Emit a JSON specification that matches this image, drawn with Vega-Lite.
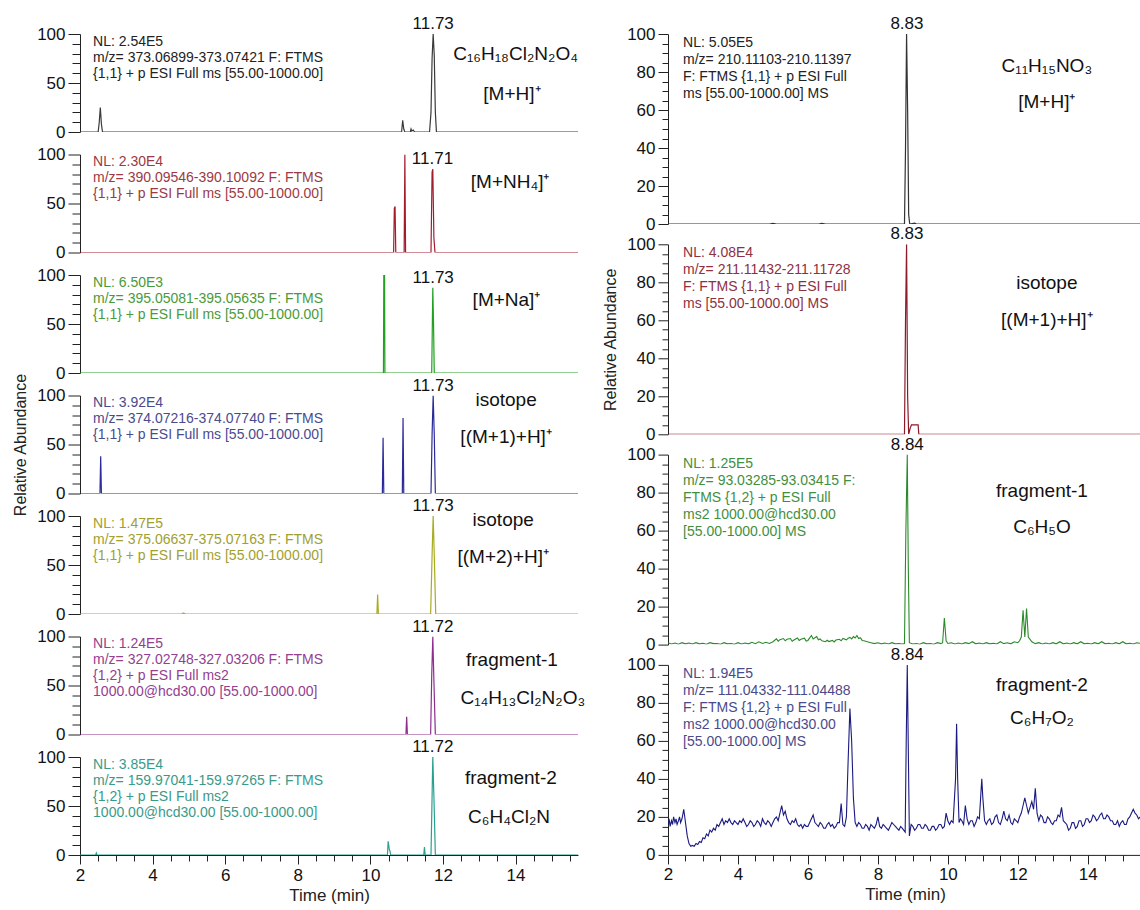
{
"$schema": "https://vega.github.io/schema/vega-lite/v6.json",
"padding": {"left": 12, "top": 15, "right": 0, "bottom": 4},
"background": "white",
"spacing": 16,
"datasets": {
"L1": [{"t":2,"y":0},{"t":2.5,"y":0},{"t":2.53,"y":10},{"t":2.56,"y":25},{"t":2.59,"y":8},{"t":2.62,"y":0},{"t":10.86,"y":0},{"t":10.89,"y":12},{"t":10.92,"y":3},{"t":10.95,"y":0},{"t":11.1,"y":0},{"t":11.12,"y":3},{"t":11.14,"y":1},{"t":11.18,"y":2},{"t":11.22,"y":0},{"t":11.63,"y":0},{"t":11.67,"y":20},{"t":11.7,"y":75},{"t":11.73,"y":100},{"t":11.76,"y":78},{"t":11.79,"y":20},{"t":11.82,"y":0},{"t":15.72,"y":0}],
"L2": [{"t":2,"y":0},{"t":10.64,"y":0},{"t":10.66,"y":45},{"t":10.68,"y":47},{"t":10.7,"y":0},{"t":10.93,"y":0},{"t":10.95,"y":100},{"t":10.97,"y":0},{"t":11.67,"y":0},{"t":11.7,"y":82},{"t":11.72,"y":85},{"t":11.75,"y":15},{"t":11.78,"y":0},{"t":15.72,"y":0}],
"L3": [{"t":2,"y":0},{"t":10.36,"y":0},{"t":10.37,"y":100},{"t":10.39,"y":100},{"t":10.4,"y":0},{"t":11.69,"y":0},{"t":11.72,"y":87},{"t":11.74,"y":50},{"t":11.76,"y":0},{"t":15.72,"y":0}],
"L4": [{"t":2,"y":0},{"t":2.55,"y":0},{"t":2.57,"y":38},{"t":2.59,"y":0},{"t":10.33,"y":0},{"t":10.35,"y":57},{"t":10.37,"y":0},{"t":10.88,"y":0},{"t":10.9,"y":77},{"t":10.92,"y":0},{"t":11.67,"y":0},{"t":11.7,"y":60},{"t":11.73,"y":100},{"t":11.76,"y":60},{"t":11.79,"y":0},{"t":15.72,"y":0}],
"L5": [{"t":2,"y":0},{"t":4.8,"y":0},{"t":4.85,"y":1},{"t":4.9,"y":0},{"t":10.18,"y":0},{"t":10.2,"y":20},{"t":10.22,"y":0},{"t":11.66,"y":0},{"t":11.7,"y":60},{"t":11.73,"y":100},{"t":11.76,"y":60},{"t":11.8,"y":0},{"t":15.72,"y":0}],
"L6": [{"t":2,"y":0},{"t":10.98,"y":0},{"t":11.0,"y":18},{"t":11.02,"y":0},{"t":11.66,"y":0},{"t":11.69,"y":60},{"t":11.72,"y":100},{"t":11.75,"y":55},{"t":11.79,"y":0},{"t":15.72,"y":0}],
"L7": [{"t":2,"y":0},{"t":2.43,"y":0},{"t":2.45,"y":2},{"t":2.47,"y":0},{"t":10.47,"y":0},{"t":10.49,"y":14},{"t":10.52,"y":6},{"t":10.54,"y":4},{"t":10.56,"y":0},{"t":11.47,"y":0},{"t":11.49,"y":8},{"t":11.51,"y":0},{"t":11.67,"y":0},{"t":11.7,"y":60},{"t":11.72,"y":100},{"t":11.75,"y":60},{"t":11.79,"y":0},{"t":15.72,"y":0}],
"R1": [{"t":2,"y":0},{"t":4.9,"y":0},{"t":5.0,"y":0.3},{"t":5.1,"y":0},{"t":6.3,"y":0},{"t":6.4,"y":0.3},{"t":6.5,"y":0},{"t":8.76,"y":0},{"t":8.79,"y":40},{"t":8.82,"y":100},{"t":8.85,"y":60},{"t":8.88,"y":5},{"t":8.91,"y":0},{"t":9.05,"y":0.4},{"t":9.1,"y":0},{"t":15.55,"y":0}],
"R2": [{"t":2,"y":0},{"t":8.76,"y":0},{"t":8.79,"y":60},{"t":8.82,"y":100},{"t":8.85,"y":20},{"t":8.88,"y":0},{"t":8.92,"y":3},{"t":8.96,"y":5},{"t":9.15,"y":5},{"t":9.17,"y":0},{"t":15.55,"y":0}],
"R3": [{"t":2.0,"y":1},{"t":2.1,"y":0.3},{"t":2.2,"y":0.8},{"t":2.3,"y":0.2},{"t":2.4,"y":1},{"t":2.5,"y":0.4},{"t":2.6,"y":0.8},{"t":2.7,"y":0.3},{"t":2.8,"y":1},{"t":2.9,"y":0.4},{"t":3.0,"y":0.7},{"t":3.1,"y":0.2},{"t":3.2,"y":1},{"t":3.3,"y":0.5},{"t":3.4,"y":0.6},{"t":3.5,"y":0.2},{"t":3.6,"y":1},{"t":3.7,"y":0.4},{"t":3.8,"y":0.6},{"t":3.9,"y":0.2},{"t":4.0,"y":1},{"t":4.1,"y":0.3},{"t":4.2,"y":0.8},{"t":4.3,"y":0.4},{"t":4.4,"y":1.2},{"t":4.5,"y":0.5},{"t":4.6,"y":1.5},{"t":4.7,"y":0.6},{"t":4.8,"y":1.2},{"t":4.9,"y":0.6},{"t":5.0,"y":1.5},{"t":5.1,"y":3},{"t":5.15,"y":1.8},{"t":5.2,"y":2.6},{"t":5.3,"y":3.2},{"t":5.35,"y":2},{"t":5.4,"y":2.8},{"t":5.5,"y":3.2},{"t":5.55,"y":1.8},{"t":5.6,"y":2.4},{"t":5.7,"y":3.5},{"t":5.75,"y":2.2},{"t":5.8,"y":2.8},{"t":5.9,"y":3.4},{"t":5.95,"y":1.9},{"t":6.0,"y":2.2},{"t":6.1,"y":4.8},{"t":6.15,"y":3},{"t":6.2,"y":3.6},{"t":6.25,"y":4.2},{"t":6.3,"y":2.5},{"t":6.35,"y":3},{"t":6.4,"y":2},{"t":6.5,"y":1.5},{"t":6.55,"y":2.3},{"t":6.6,"y":1.6},{"t":6.7,"y":2.2},{"t":6.75,"y":1.4},{"t":6.8,"y":2.4},{"t":6.9,"y":2.8},{"t":6.95,"y":2},{"t":7.0,"y":3.2},{"t":7.1,"y":2.5},{"t":7.15,"y":3.4},{"t":7.2,"y":3.8},{"t":7.25,"y":3},{"t":7.3,"y":4.2},{"t":7.35,"y":3.5},{"t":7.4,"y":4.8},{"t":7.45,"y":3.2},{"t":7.5,"y":3.6},{"t":7.55,"y":2.2},{"t":7.6,"y":2},{"t":7.7,"y":1.5},{"t":7.8,"y":1},{"t":7.9,"y":0.5},{"t":8.0,"y":1},{"t":8.1,"y":0.4},{"t":8.2,"y":0.8},{"t":8.3,"y":0.3},{"t":8.4,"y":1},{"t":8.5,"y":0.4},{"t":8.6,"y":0.6},{"t":8.7,"y":0.3},{"t":8.76,"y":0.5},{"t":8.8,"y":60},{"t":8.84,"y":100},{"t":8.87,"y":40},{"t":8.9,"y":1},{"t":9.0,"y":0.3},{"t":9.1,"y":0.6},{"t":9.2,"y":0.2},{"t":9.3,"y":1},{"t":9.4,"y":0.4},{"t":9.5,"y":0.6},{"t":9.6,"y":0.2},{"t":9.7,"y":1},{"t":9.8,"y":0.5},{"t":9.85,"y":1},{"t":9.9,"y":14},{"t":9.95,"y":2},{"t":10.0,"y":0.6},{"t":10.1,"y":1},{"t":10.2,"y":0.3},{"t":10.3,"y":0.8},{"t":10.4,"y":0.3},{"t":10.5,"y":1},{"t":10.6,"y":0.5},{"t":10.7,"y":1.5},{"t":10.8,"y":0.4},{"t":10.9,"y":0.8},{"t":11.0,"y":0.3},{"t":11.1,"y":1},{"t":11.2,"y":0.4},{"t":11.3,"y":0.7},{"t":11.4,"y":0.3},{"t":11.5,"y":1.5},{"t":11.6,"y":0.5},{"t":11.7,"y":1},{"t":11.8,"y":0.4},{"t":11.9,"y":1.5},{"t":12.0,"y":1},{"t":12.05,"y":2},{"t":12.1,"y":4},{"t":12.15,"y":18},{"t":12.2,"y":4},{"t":12.25,"y":19},{"t":12.3,"y":4},{"t":12.4,"y":1.5},{"t":12.5,"y":0.5},{"t":12.6,"y":1},{"t":12.7,"y":0.3},{"t":12.8,"y":0.8},{"t":12.9,"y":0.3},{"t":13.0,"y":1},{"t":13.1,"y":0.4},{"t":13.2,"y":1.5},{"t":13.3,"y":0.4},{"t":13.4,"y":0.8},{"t":13.5,"y":0.3},{"t":13.6,"y":1},{"t":13.7,"y":0.4},{"t":13.8,"y":1.5},{"t":13.9,"y":0.4},{"t":14.0,"y":0.7},{"t":14.1,"y":0.3},{"t":14.2,"y":1},{"t":14.3,"y":0.4},{"t":14.4,"y":1.5},{"t":14.5,"y":0.4},{"t":14.6,"y":0.7},{"t":14.7,"y":0.3},{"t":14.8,"y":1},{"t":14.9,"y":0.4},{"t":15.0,"y":1.5},{"t":15.1,"y":0.4},{"t":15.2,"y":0.7},{"t":15.3,"y":0.3},{"t":15.4,"y":1},{"t":15.55,"y":0.5}],
"R4": [{"t":2.0,"y":16},{"t":2.03,"y":19},{"t":2.06,"y":15},{"t":2.1,"y":18},{"t":2.13,"y":16},{"t":2.16,"y":20},{"t":2.2,"y":17},{"t":2.23,"y":19},{"t":2.26,"y":16},{"t":2.3,"y":18},{"t":2.33,"y":20},{"t":2.36,"y":17},{"t":2.4,"y":19},{"t":2.45,"y":24},{"t":2.5,"y":17},{"t":2.55,"y":10},{"t":2.6,"y":6},{"t":2.65,"y":4.5},{"t":2.7,"y":5},{"t":2.75,"y":4.5},{"t":2.8,"y":6},{"t":2.85,"y":5.5},{"t":2.9,"y":7},{"t":2.95,"y":6.5},{"t":3.0,"y":9},{"t":3.05,"y":8.5},{"t":3.1,"y":11},{"t":3.15,"y":10},{"t":3.2,"y":13},{"t":3.25,"y":12},{"t":3.3,"y":14},{"t":3.35,"y":13},{"t":3.4,"y":16},{"t":3.45,"y":15},{"t":3.5,"y":17},{"t":3.55,"y":19},{"t":3.6,"y":16},{"t":3.65,"y":18},{"t":3.7,"y":17},{"t":3.75,"y":19},{"t":3.8,"y":17},{"t":3.85,"y":16},{"t":3.9,"y":18},{"t":3.95,"y":17},{"t":4.0,"y":16},{"t":4.05,"y":18},{"t":4.1,"y":17},{"t":4.15,"y":19},{"t":4.2,"y":17},{"t":4.25,"y":15},{"t":4.3,"y":16},{"t":4.35,"y":18},{"t":4.4,"y":17},{"t":4.45,"y":15},{"t":4.5,"y":16},{"t":4.55,"y":18},{"t":4.6,"y":17},{"t":4.65,"y":15},{"t":4.7,"y":19},{"t":4.75,"y":17},{"t":4.8,"y":16},{"t":4.85,"y":18},{"t":4.9,"y":17},{"t":4.95,"y":15},{"t":5.0,"y":17},{"t":5.05,"y":19},{"t":5.1,"y":20},{"t":5.15,"y":18},{"t":5.2,"y":22},{"t":5.25,"y":26},{"t":5.3,"y":21},{"t":5.35,"y":23},{"t":5.4,"y":19},{"t":5.45,"y":17},{"t":5.5,"y":16},{"t":5.55,"y":18},{"t":5.6,"y":17},{"t":5.65,"y":19},{"t":5.7,"y":16},{"t":5.75,"y":15},{"t":5.8,"y":16},{"t":5.85,"y":14},{"t":5.9,"y":16},{"t":5.95,"y":15},{"t":6.0,"y":15},{"t":6.05,"y":17},{"t":6.1,"y":19},{"t":6.15,"y":21},{"t":6.2,"y":17},{"t":6.25,"y":16},{"t":6.3,"y":15},{"t":6.35,"y":17},{"t":6.4,"y":16},{"t":6.45,"y":14},{"t":6.5,"y":14},{"t":6.55,"y":16},{"t":6.6,"y":17},{"t":6.65,"y":15},{"t":6.7,"y":16},{"t":6.75,"y":14},{"t":6.8,"y":15},{"t":6.85,"y":17},{"t":6.9,"y":17},{"t":6.95,"y":27},{"t":7.0,"y":16},{"t":7.05,"y":15},{"t":7.1,"y":20},{"t":7.15,"y":50},{"t":7.2,"y":77},{"t":7.25,"y":60},{"t":7.3,"y":30},{"t":7.35,"y":17},{"t":7.4,"y":15},{"t":7.45,"y":17},{"t":7.5,"y":16},{"t":7.55,"y":14},{"t":7.6,"y":14},{"t":7.65,"y":16},{"t":7.7,"y":15},{"t":7.75,"y":13},{"t":7.8,"y":16},{"t":7.85,"y":15},{"t":7.9,"y":14},{"t":7.95,"y":16},{"t":8.0,"y":20},{"t":8.05,"y":15},{"t":8.1,"y":14},{"t":8.15,"y":16},{"t":8.2,"y":15},{"t":8.25,"y":14},{"t":8.3,"y":13},{"t":8.35,"y":15},{"t":8.4,"y":17},{"t":8.45,"y":16},{"t":8.5,"y":15},{"t":8.55,"y":14},{"t":8.6,"y":13},{"t":8.65,"y":15},{"t":8.7,"y":14},{"t":8.78,"y":12},{"t":8.81,"y":60},{"t":8.84,"y":100},{"t":8.87,"y":55},{"t":8.9,"y":10},{"t":8.95,"y":16},{"t":9.0,"y":15},{"t":9.05,"y":13},{"t":9.1,"y":14},{"t":9.15,"y":16},{"t":9.2,"y":16},{"t":9.25,"y":14},{"t":9.3,"y":14},{"t":9.35,"y":16},{"t":9.4,"y":15},{"t":9.45,"y":13},{"t":9.5,"y":13},{"t":9.55,"y":15},{"t":9.6,"y":15},{"t":9.65,"y":13},{"t":9.7,"y":14},{"t":9.75,"y":16},{"t":9.8,"y":16},{"t":9.85,"y":14},{"t":9.9,"y":15},{"t":9.95,"y":22},{"t":10.0,"y":18},{"t":10.05,"y":16},{"t":10.1,"y":18},{"t":10.15,"y":17},{"t":10.22,"y":40},{"t":10.25,"y":69},{"t":10.28,"y":40},{"t":10.32,"y":17},{"t":10.36,"y":19},{"t":10.4,"y":18},{"t":10.45,"y":16},{"t":10.5,"y":26},{"t":10.55,"y":19},{"t":10.6,"y":16},{"t":10.65,"y":18},{"t":10.7,"y":18},{"t":10.75,"y":15},{"t":10.8,"y":17},{"t":10.85,"y":20},{"t":10.9,"y":19},{"t":10.97,"y":40},{"t":11.0,"y":30},{"t":11.05,"y":18},{"t":11.1,"y":16},{"t":11.15,"y":18},{"t":11.2,"y":19},{"t":11.25,"y":16},{"t":11.3,"y":17},{"t":11.35,"y":20},{"t":11.4,"y":21},{"t":11.45,"y":17},{"t":11.5,"y":16},{"t":11.55,"y":19},{"t":11.6,"y":23},{"t":11.65,"y":19},{"t":11.7,"y":18},{"t":11.75,"y":21},{"t":11.8,"y":17},{"t":11.85,"y":16},{"t":11.9,"y":19},{"t":11.95,"y":18},{"t":12.0,"y":17},{"t":12.05,"y":20},{"t":12.1,"y":22},{"t":12.15,"y":26},{"t":12.2,"y":30},{"t":12.25,"y":26},{"t":12.3,"y":22},{"t":12.35,"y":25},{"t":12.4,"y":28},{"t":12.45,"y":24},{"t":12.5,"y":35},{"t":12.55,"y":22},{"t":12.6,"y":18},{"t":12.65,"y":21},{"t":12.7,"y":20},{"t":12.75,"y":17},{"t":12.8,"y":17},{"t":12.85,"y":20},{"t":12.9,"y":19},{"t":12.95,"y":17},{"t":13.0,"y":16},{"t":13.05,"y":18},{"t":13.1,"y":18},{"t":13.15,"y":21},{"t":13.2,"y":20},{"t":13.25,"y":25},{"t":13.3,"y":18},{"t":13.35,"y":17},{"t":13.4,"y":16},{"t":13.45,"y":13},{"t":13.5,"y":14},{"t":13.55,"y":17},{"t":13.6,"y":17},{"t":13.65,"y":14},{"t":13.7,"y":15},{"t":13.75,"y":18},{"t":13.8,"y":18},{"t":13.85,"y":15},{"t":13.9,"y":16},{"t":13.95,"y":19},{"t":14.0,"y":19},{"t":14.05,"y":17},{"t":14.1,"y":18},{"t":14.15,"y":21},{"t":14.2,"y":20},{"t":14.25,"y":18},{"t":14.3,"y":19},{"t":14.35,"y":21},{"t":14.4,"y":22},{"t":14.45,"y":19},{"t":14.5,"y":19},{"t":14.55,"y":21},{"t":14.6,"y":20},{"t":14.65,"y":18},{"t":14.7,"y":18},{"t":14.75,"y":16},{"t":14.8,"y":16},{"t":14.85,"y":18},{"t":14.9,"y":15},{"t":14.95,"y":17},{"t":15.0,"y":18},{"t":15.05,"y":16},{"t":15.1,"y":16},{"t":15.15,"y":19},{"t":15.2,"y":20},{"t":15.25,"y":22},{"t":15.3,"y":24},{"t":15.35,"y":22},{"t":15.4,"y":21},{"t":15.45,"y":19},{"t":15.5,"y":20},{"t":15.55,"y":21}],
"info": [
{"p":"L1","t":2.36,"y":99,"text":"NL: 2.54E5\nm/z= 373.06899-373.07421 F: FTMS\n{1,1}  + p ESI Full ms [55.00-1000.00]"},
{"p":"L2","t":2.36,"y":99,"text":"NL: 2.30E4\nm/z= 390.09546-390.10092 F: FTMS\n{1,1}  + p ESI Full ms [55.00-1000.00]"},
{"p":"L3","t":2.36,"y":99,"text":"NL: 6.50E3\nm/z= 395.05081-395.05635 F: FTMS\n{1,1}  + p ESI Full ms [55.00-1000.00]"},
{"p":"L4","t":2.36,"y":99,"text":"NL: 3.92E4\nm/z= 374.07216-374.07740 F: FTMS\n{1,1}  + p ESI Full ms [55.00-1000.00]"},
{"p":"L5","t":2.36,"y":99,"text":"NL: 1.47E5\nm/z= 375.06637-375.07163 F: FTMS\n{1,1}  + p ESI Full ms [55.00-1000.00]"},
{"p":"L6","t":2.36,"y":99,"text":"NL: 1.24E5\nm/z= 327.02748-327.03206 F: FTMS\n{1,2}  + p ESI Full ms2\n1000.00@hcd30.00 [55.00-1000.00]"},
{"p":"L7","t":2.36,"y":99,"text":"NL: 3.85E4\nm/z= 159.97041-159.97265 F: FTMS\n{1,2}  + p ESI Full ms2\n1000.00@hcd30.00 [55.00-1000.00]"},
{"p":"R1","t":2.43,"y":99,"text":"NL: 5.05E5\nm/z= 210.11103-210.11397\nF: FTMS {1,1}  + p ESI Full\nms [55.00-1000.00]  MS"},
{"p":"R2","t":2.43,"y":99,"text":"NL: 4.08E4\nm/z= 211.11432-211.11728\nF: FTMS {1,1}  + p ESI Full\nms [55.00-1000.00]  MS"},
{"p":"R3","t":2.43,"y":99,"text":"NL: 1.25E5\nm/z= 93.03285-93.03415 F:\nFTMS {1,2}  + p ESI Full\nms2 1000.00@hcd30.00\n[55.00-1000.00]  MS"},
{"p":"R4","t":2.43,"y":99,"text":"NL: 1.94E5\nm/z= 111.04332-111.04488\nF: FTMS {1,2}  + p ESI Full\nms2 1000.00@hcd30.00\n[55.00-1000.00]  MS"}
],
"peak": [
{"p":"L1","t":11.73,"y":100,"text":"11.73"},
{"p":"L2","t":11.71,"y":85,"text":"11.71"},
{"p":"L3","t":11.73,"y":87,"text":"11.73"},
{"p":"L4","t":11.73,"y":100,"text":"11.73"},
{"p":"L5","t":11.73,"y":100,"text":"11.73"},
{"p":"L6","t":11.72,"y":100,"text":"11.72"},
{"p":"L7","t":11.72,"y":100,"text":"11.72"},
{"p":"R1","t":8.83,"y":100,"text":"8.83"},
{"p":"R2","t":8.83,"y":100,"text":"8.83"},
{"p":"R3","t":8.84,"y":100,"text":"8.84"},
{"p":"R4","t":8.84,"y":100,"text":"8.84"}
],
"lab": [
{"p":"L1","t":14.0,"y":80,"text":"C₁₆H₁₈Cl₂N₂O₄"},
{"p":"L1","t":13.9,"y":39,"text":"[M+H]⁺"},
{"p":"L2","t":13.85,"y":72,"text":"[M+NH₄]⁺"},
{"p":"L3","t":13.75,"y":75,"text":"[M+Na]⁺"},
{"p":"L4","t":13.74,"y":95,"text":"isotope"},
{"p":"L4","t":13.74,"y":58,"text":"[(M+1)+H]⁺"},
{"p":"L5","t":13.66,"y":96,"text":"isotope"},
{"p":"L5","t":13.66,"y":58,"text":"[(M+2)+H]⁺"},
{"p":"L6","t":13.9,"y":76,"text":"fragment-1"},
{"p":"L6","t":14.2,"y":37,"text":"C₁₄H₁₃Cl₂N₂O₃"},
{"p":"L7","t":13.87,"y":79,"text":"fragment-2"},
{"p":"L7","t":13.82,"y":39,"text":"C₆H₄Cl₂N"},
{"p":"R1","t":12.83,"y":83,"text":"C₁₁H₁₅NO₃"},
{"p":"R1","t":12.83,"y":64,"text":"[M+H]⁺"},
{"p":"R2","t":12.83,"y":79.5,"text":"isotope"},
{"p":"R2","t":12.83,"y":60,"text":"[(M+1)+H]⁺"},
{"p":"R3","t":12.69,"y":81,"text":"fragment-1"},
{"p":"R3","t":12.69,"y":62,"text":"C₆H₅O"},
{"p":"R4","t":12.69,"y":89.5,"text":"fragment-2"},
{"p":"R4","t":12.69,"y":72,"text":"C₆H₇O₂"}
]
},
"hconcat": [
{"bounds": "flush", "spacing": 22.5, "vconcat": [
{"width": 498, "height": 98, "resolve": {"axis": {"y": "independent"}}, "layer": [
 {"data": {"name": "L1"}, "mark": {"type": "line", "color": "#3a3a3a", "strokeWidth": 1.2, "clip": true},
  "encoding": {"x": {"field": "t", "type": "quantitative", "scale": {"domain": [2, 15.72], "nice": false, "zero": false}, "axis": {"labels": false, "ticks": false, "title": null, "domainColor": "#8a8a8a"}},
   "y": {"field": "y", "type": "quantitative", "scale": {"domain": [0, 100], "nice": false}, "axis": {"values": [0,50,100], "tickSize": 12, "title": null}}}},
 {"data": {"name": "info"}, "transform": [{"filter": "datum.p === 'L1'"}], "mark": {"type": "text", "align": "left", "baseline": "top", "fontSize": 14, "lineHeight": 16, "lineBreak": "\n", "color": "#222222"},
  "encoding": {"x": {"field": "t", "type": "quantitative", "scale": {"domain": [2, 15.72], "nice": false, "zero": false}, "axis": null}, "y": {"field": "y", "type": "quantitative", "scale": {"domain": [0, 100], "nice": false}, "axis": {"orient": "left", "values": [10,20,30,40], "labels": false, "domain": false, "tickSize": 8, "title": null}}, "text": {"field": "text"}}},
 {"data": {"name": "peak"}, "transform": [{"filter": "datum.p === 'L1'"}], "mark": {"type": "text", "align": "center", "baseline": "bottom", "dy": -1, "fontSize": 17, "color": "#111111"},
  "encoding": {"x": {"field": "t", "type": "quantitative", "scale": {"domain": [2, 15.72], "nice": false, "zero": false}, "axis": null}, "y": {"field": "y", "type": "quantitative", "scale": {"domain": [0, 100], "nice": false}, "axis": {"orient": "left", "values": [60,70,80,90], "labels": false, "domain": false, "tickSize": 8, "title": null}}, "text": {"field": "text"}}},
 {"data": {"name": "lab"}, "transform": [{"filter": "datum.p === 'L1'"}], "mark": {"type": "text", "align": "center", "baseline": "middle", "fontSize": 19, "color": "#111111"},
  "encoding": {"x": {"field": "t", "type": "quantitative", "scale": {"domain": [2, 15.72], "nice": false, "zero": false}, "axis": null}, "y": {"field": "y", "type": "quantitative", "scale": {"domain": [0, 100], "nice": false}, "axis": null}, "text": {"field": "text"}}}
]},
{"width": 498, "height": 98, "resolve": {"axis": {"y": "independent"}}, "layer": [
 {"data": {"name": "L2"}, "mark": {"type": "line", "color": "#a31c2e", "strokeWidth": 1.2, "clip": true},
  "encoding": {"x": {"field": "t", "type": "quantitative", "scale": {"domain": [2, 15.72], "nice": false, "zero": false}, "axis": {"labels": false, "ticks": false, "title": null, "domainColor": "#8a8a8a"}},
   "y": {"field": "y", "type": "quantitative", "scale": {"domain": [0, 100], "nice": false}, "axis": {"values": [0,50,100], "tickSize": 12, "title": null}}}},
 {"data": {"name": "info"}, "transform": [{"filter": "datum.p === 'L2'"}], "mark": {"type": "text", "align": "left", "baseline": "top", "fontSize": 14, "lineHeight": 16, "lineBreak": "\n", "color": "#9b3a44"},
  "encoding": {"x": {"field": "t", "type": "quantitative", "scale": {"domain": [2, 15.72], "nice": false, "zero": false}, "axis": null}, "y": {"field": "y", "type": "quantitative", "scale": {"domain": [0, 100], "nice": false}, "axis": {"orient": "left", "values": [10,20,30,40], "labels": false, "domain": false, "tickSize": 8, "title": null}}, "text": {"field": "text"}}},
 {"data": {"name": "peak"}, "transform": [{"filter": "datum.p === 'L2'"}], "mark": {"type": "text", "align": "center", "baseline": "bottom", "dy": -1, "fontSize": 17, "color": "#111111"},
  "encoding": {"x": {"field": "t", "type": "quantitative", "scale": {"domain": [2, 15.72], "nice": false, "zero": false}, "axis": null}, "y": {"field": "y", "type": "quantitative", "scale": {"domain": [0, 100], "nice": false}, "axis": {"orient": "left", "values": [60,70,80,90], "labels": false, "domain": false, "tickSize": 8, "title": null}}, "text": {"field": "text"}}},
 {"data": {"name": "lab"}, "transform": [{"filter": "datum.p === 'L2'"}], "mark": {"type": "text", "align": "center", "baseline": "middle", "fontSize": 19, "color": "#111111"},
  "encoding": {"x": {"field": "t", "type": "quantitative", "scale": {"domain": [2, 15.72], "nice": false, "zero": false}, "axis": null}, "y": {"field": "y", "type": "quantitative", "scale": {"domain": [0, 100], "nice": false}, "axis": null}, "text": {"field": "text"}}}
]},
{"width": 498, "height": 98, "resolve": {"axis": {"y": "independent"}}, "layer": [
 {"data": {"name": "L3"}, "mark": {"type": "line", "color": "#22a022", "strokeWidth": 1.2, "clip": true},
  "encoding": {"x": {"field": "t", "type": "quantitative", "scale": {"domain": [2, 15.72], "nice": false, "zero": false}, "axis": {"labels": false, "ticks": false, "title": null, "domainColor": "#8a8a8a"}},
   "y": {"field": "y", "type": "quantitative", "scale": {"domain": [0, 100], "nice": false}, "axis": {"values": [0,50,100], "tickSize": 12, "title": null}}}},
 {"data": {"name": "info"}, "transform": [{"filter": "datum.p === 'L3'"}], "mark": {"type": "text", "align": "left", "baseline": "top", "fontSize": 14, "lineHeight": 16, "lineBreak": "\n", "color": "#4a9a3a"},
  "encoding": {"x": {"field": "t", "type": "quantitative", "scale": {"domain": [2, 15.72], "nice": false, "zero": false}, "axis": null}, "y": {"field": "y", "type": "quantitative", "scale": {"domain": [0, 100], "nice": false}, "axis": {"orient": "left", "values": [10,20,30,40], "labels": false, "domain": false, "tickSize": 8, "title": null}}, "text": {"field": "text"}}},
 {"data": {"name": "peak"}, "transform": [{"filter": "datum.p === 'L3'"}], "mark": {"type": "text", "align": "center", "baseline": "bottom", "dy": -1, "fontSize": 17, "color": "#111111"},
  "encoding": {"x": {"field": "t", "type": "quantitative", "scale": {"domain": [2, 15.72], "nice": false, "zero": false}, "axis": null}, "y": {"field": "y", "type": "quantitative", "scale": {"domain": [0, 100], "nice": false}, "axis": {"orient": "left", "values": [60,70,80,90], "labels": false, "domain": false, "tickSize": 8, "title": null}}, "text": {"field": "text"}}},
 {"data": {"name": "lab"}, "transform": [{"filter": "datum.p === 'L3'"}], "mark": {"type": "text", "align": "center", "baseline": "middle", "fontSize": 19, "color": "#111111"},
  "encoding": {"x": {"field": "t", "type": "quantitative", "scale": {"domain": [2, 15.72], "nice": false, "zero": false}, "axis": null}, "y": {"field": "y", "type": "quantitative", "scale": {"domain": [0, 100], "nice": false}, "axis": null}, "text": {"field": "text"}}}
]},
{"width": 498, "height": 98, "resolve": {"axis": {"y": "independent"}}, "layer": [
 {"data": {"name": "L4"}, "mark": {"type": "line", "color": "#2a2a9a", "strokeWidth": 1.2, "clip": true},
  "encoding": {"x": {"field": "t", "type": "quantitative", "scale": {"domain": [2, 15.72], "nice": false, "zero": false}, "axis": {"labels": false, "ticks": false, "title": null, "domainColor": "#8a8a8a"}},
   "y": {"field": "y", "type": "quantitative", "scale": {"domain": [0, 100], "nice": false}, "axis": {"values": [0,50,100], "tickSize": 12, "title": "Relative Abundance"}}}},
 {"data": {"name": "info"}, "transform": [{"filter": "datum.p === 'L4'"}], "mark": {"type": "text", "align": "left", "baseline": "top", "fontSize": 14, "lineHeight": 16, "lineBreak": "\n", "color": "#4a4a90"},
  "encoding": {"x": {"field": "t", "type": "quantitative", "scale": {"domain": [2, 15.72], "nice": false, "zero": false}, "axis": null}, "y": {"field": "y", "type": "quantitative", "scale": {"domain": [0, 100], "nice": false}, "axis": {"orient": "left", "values": [10,20,30,40], "labels": false, "domain": false, "tickSize": 8, "title": null}}, "text": {"field": "text"}}},
 {"data": {"name": "peak"}, "transform": [{"filter": "datum.p === 'L4'"}], "mark": {"type": "text", "align": "center", "baseline": "bottom", "dy": -1, "fontSize": 17, "color": "#111111"},
  "encoding": {"x": {"field": "t", "type": "quantitative", "scale": {"domain": [2, 15.72], "nice": false, "zero": false}, "axis": null}, "y": {"field": "y", "type": "quantitative", "scale": {"domain": [0, 100], "nice": false}, "axis": {"orient": "left", "values": [60,70,80,90], "labels": false, "domain": false, "tickSize": 8, "title": null}}, "text": {"field": "text"}}},
 {"data": {"name": "lab"}, "transform": [{"filter": "datum.p === 'L4'"}], "mark": {"type": "text", "align": "center", "baseline": "middle", "fontSize": 19, "color": "#111111"},
  "encoding": {"x": {"field": "t", "type": "quantitative", "scale": {"domain": [2, 15.72], "nice": false, "zero": false}, "axis": null}, "y": {"field": "y", "type": "quantitative", "scale": {"domain": [0, 100], "nice": false}, "axis": null}, "text": {"field": "text"}}}
]},
{"width": 498, "height": 98, "resolve": {"axis": {"y": "independent"}}, "layer": [
 {"data": {"name": "L5"}, "mark": {"type": "line", "color": "#a8ac22", "strokeWidth": 1.2, "clip": true},
  "encoding": {"x": {"field": "t", "type": "quantitative", "scale": {"domain": [2, 15.72], "nice": false, "zero": false}, "axis": {"labels": false, "ticks": false, "title": null, "domainColor": "#8a8a8a"}},
   "y": {"field": "y", "type": "quantitative", "scale": {"domain": [0, 100], "nice": false}, "axis": {"values": [0,50,100], "tickSize": 12, "title": null}}}},
 {"data": {"name": "info"}, "transform": [{"filter": "datum.p === 'L5'"}], "mark": {"type": "text", "align": "left", "baseline": "top", "fontSize": 14, "lineHeight": 16, "lineBreak": "\n", "color": "#9fa030"},
  "encoding": {"x": {"field": "t", "type": "quantitative", "scale": {"domain": [2, 15.72], "nice": false, "zero": false}, "axis": null}, "y": {"field": "y", "type": "quantitative", "scale": {"domain": [0, 100], "nice": false}, "axis": {"orient": "left", "values": [10,20,30,40], "labels": false, "domain": false, "tickSize": 8, "title": null}}, "text": {"field": "text"}}},
 {"data": {"name": "peak"}, "transform": [{"filter": "datum.p === 'L5'"}], "mark": {"type": "text", "align": "center", "baseline": "bottom", "dy": -1, "fontSize": 17, "color": "#111111"},
  "encoding": {"x": {"field": "t", "type": "quantitative", "scale": {"domain": [2, 15.72], "nice": false, "zero": false}, "axis": null}, "y": {"field": "y", "type": "quantitative", "scale": {"domain": [0, 100], "nice": false}, "axis": {"orient": "left", "values": [60,70,80,90], "labels": false, "domain": false, "tickSize": 8, "title": null}}, "text": {"field": "text"}}},
 {"data": {"name": "lab"}, "transform": [{"filter": "datum.p === 'L5'"}], "mark": {"type": "text", "align": "center", "baseline": "middle", "fontSize": 19, "color": "#111111"},
  "encoding": {"x": {"field": "t", "type": "quantitative", "scale": {"domain": [2, 15.72], "nice": false, "zero": false}, "axis": null}, "y": {"field": "y", "type": "quantitative", "scale": {"domain": [0, 100], "nice": false}, "axis": null}, "text": {"field": "text"}}}
]},
{"width": 498, "height": 98, "resolve": {"axis": {"y": "independent"}}, "layer": [
 {"data": {"name": "L6"}, "mark": {"type": "line", "color": "#8e2d8e", "strokeWidth": 1.2, "clip": true},
  "encoding": {"x": {"field": "t", "type": "quantitative", "scale": {"domain": [2, 15.72], "nice": false, "zero": false}, "axis": {"labels": false, "ticks": false, "title": null, "domainColor": "#8a8a8a"}},
   "y": {"field": "y", "type": "quantitative", "scale": {"domain": [0, 100], "nice": false}, "axis": {"values": [0,50,100], "tickSize": 12, "title": null}}}},
 {"data": {"name": "info"}, "transform": [{"filter": "datum.p === 'L6'"}], "mark": {"type": "text", "align": "left", "baseline": "top", "fontSize": 14, "lineHeight": 16, "lineBreak": "\n", "color": "#94408f"},
  "encoding": {"x": {"field": "t", "type": "quantitative", "scale": {"domain": [2, 15.72], "nice": false, "zero": false}, "axis": null}, "y": {"field": "y", "type": "quantitative", "scale": {"domain": [0, 100], "nice": false}, "axis": {"orient": "left", "values": [10,20,30,40], "labels": false, "domain": false, "tickSize": 8, "title": null}}, "text": {"field": "text"}}},
 {"data": {"name": "peak"}, "transform": [{"filter": "datum.p === 'L6'"}], "mark": {"type": "text", "align": "center", "baseline": "bottom", "dy": -1, "fontSize": 17, "color": "#111111"},
  "encoding": {"x": {"field": "t", "type": "quantitative", "scale": {"domain": [2, 15.72], "nice": false, "zero": false}, "axis": null}, "y": {"field": "y", "type": "quantitative", "scale": {"domain": [0, 100], "nice": false}, "axis": {"orient": "left", "values": [60,70,80,90], "labels": false, "domain": false, "tickSize": 8, "title": null}}, "text": {"field": "text"}}},
 {"data": {"name": "lab"}, "transform": [{"filter": "datum.p === 'L6'"}], "mark": {"type": "text", "align": "center", "baseline": "middle", "fontSize": 19, "color": "#111111"},
  "encoding": {"x": {"field": "t", "type": "quantitative", "scale": {"domain": [2, 15.72], "nice": false, "zero": false}, "axis": null}, "y": {"field": "y", "type": "quantitative", "scale": {"domain": [0, 100], "nice": false}, "axis": null}, "text": {"field": "text"}}}
]},
{"width": 498, "height": 98, "resolve": {"axis": {"x": "independent", "y": "independent"}}, "layer": [
 {"data": {"name": "L7"}, "mark": {"type": "line", "color": "#2aa090", "strokeWidth": 1.2, "clip": true},
  "encoding": {"x": {"field": "t", "type": "quantitative", "scale": {"domain": [2, 15.72], "nice": false, "zero": false}, "axis": {"values": [2,4,6,8,10,12,14], "tickSize": 9, "title": "Time (min)"}},
   "y": {"field": "y", "type": "quantitative", "scale": {"domain": [0, 100], "nice": false}, "axis": {"values": [0,50,100], "tickSize": 12, "title": null}}}},
 {"data": {"name": "info"}, "transform": [{"filter": "datum.p === 'L7'"}], "mark": {"type": "text", "align": "left", "baseline": "top", "fontSize": 14, "lineHeight": 16, "lineBreak": "\n", "color": "#3a9a8a"},
  "encoding": {"x": {"field": "t", "type": "quantitative", "scale": {"domain": [2, 15.72], "nice": false, "zero": false}, "axis": {"orient": "bottom", "values": [2.5,3,3.5,4.5,5,5.5,6.5], "labels": false, "domain": false, "tickSize": 6, "title": null}}, "y": {"field": "y", "type": "quantitative", "scale": {"domain": [0, 100], "nice": false}, "axis": {"orient": "left", "values": [10,20,30,40], "labels": false, "domain": false, "tickSize": 8, "title": null}}, "text": {"field": "text"}}},
 {"data": {"name": "peak"}, "transform": [{"filter": "datum.p === 'L7'"}], "mark": {"type": "text", "align": "center", "baseline": "bottom", "dy": -1, "fontSize": 17, "color": "#111111"},
  "encoding": {"x": {"field": "t", "type": "quantitative", "scale": {"domain": [2, 15.72], "nice": false, "zero": false}, "axis": {"orient": "bottom", "values": [7,7.5,8.5,9,9.5,10.5,11], "labels": false, "domain": false, "tickSize": 6, "title": null}}, "y": {"field": "y", "type": "quantitative", "scale": {"domain": [0, 100], "nice": false}, "axis": {"orient": "left", "values": [60,70,80,90], "labels": false, "domain": false, "tickSize": 8, "title": null}}, "text": {"field": "text"}}},
 {"data": {"name": "lab"}, "transform": [{"filter": "datum.p === 'L7'"}], "mark": {"type": "text", "align": "center", "baseline": "middle", "fontSize": 19, "color": "#111111"},
  "encoding": {"x": {"field": "t", "type": "quantitative", "scale": {"domain": [2, 15.72], "nice": false, "zero": false}, "axis": {"orient": "bottom", "values": [11.5,12.5,13,13.5,14.5,15,15.5], "labels": false, "domain": false, "tickSize": 6, "title": null}}, "y": {"field": "y", "type": "quantitative", "scale": {"domain": [0, 100], "nice": false}, "axis": null}, "text": {"field": "text"}}}
]}
]},
{"bounds": "flush", "spacing": 20.3, "vconcat": [
{"width": 474, "height": 190, "resolve": {"axis": {"y": "independent"}}, "layer": [
 {"data": {"name": "R1"}, "mark": {"type": "line", "color": "#333333", "strokeWidth": 1.2, "clip": true},
  "encoding": {"x": {"field": "t", "type": "quantitative", "scale": {"domain": [2, 15.55], "nice": false, "zero": false}, "axis": {"labels": false, "ticks": false, "title": null, "domainColor": "#8a8a8a"}},
   "y": {"field": "y", "type": "quantitative", "scale": {"domain": [0, 100], "nice": false}, "axis": {"values": [0,20,40,60,80,100], "tickSize": 10, "title": null}}}},
 {"data": {"name": "info"}, "transform": [{"filter": "datum.p === 'R1'"}], "mark": {"type": "text", "align": "left", "baseline": "top", "fontSize": 14, "lineHeight": 17, "lineBreak": "\n", "color": "#222222"},
  "encoding": {"x": {"field": "t", "type": "quantitative", "scale": {"domain": [2, 15.55], "nice": false, "zero": false}, "axis": null}, "y": {"field": "y", "type": "quantitative", "scale": {"domain": [0, 100], "nice": false}, "axis": {"orient": "left", "values": [5,10,15,25,30], "labels": false, "domain": false, "tickSize": 6, "title": null}}, "text": {"field": "text"}}},
 {"data": {"name": "peak"}, "transform": [{"filter": "datum.p === 'R1'"}], "mark": {"type": "text", "align": "center", "baseline": "bottom", "dy": -1, "fontSize": 17, "color": "#111111"},
  "encoding": {"x": {"field": "t", "type": "quantitative", "scale": {"domain": [2, 15.55], "nice": false, "zero": false}, "axis": null}, "y": {"field": "y", "type": "quantitative", "scale": {"domain": [0, 100], "nice": false}, "axis": {"orient": "left", "values": [35,45,50,55,65], "labels": false, "domain": false, "tickSize": 6, "title": null}}, "text": {"field": "text"}}},
 {"data": {"name": "lab"}, "transform": [{"filter": "datum.p === 'R1'"}], "mark": {"type": "text", "align": "center", "baseline": "middle", "fontSize": 19, "color": "#111111"},
  "encoding": {"x": {"field": "t", "type": "quantitative", "scale": {"domain": [2, 15.55], "nice": false, "zero": false}, "axis": null}, "y": {"field": "y", "type": "quantitative", "scale": {"domain": [0, 100], "nice": false}, "axis": {"orient": "left", "values": [70,75,85,90,95], "labels": false, "domain": false, "tickSize": 6, "title": null}}, "text": {"field": "text"}}}
]},
{"width": 474, "height": 190, "resolve": {"axis": {"y": "independent"}}, "layer": [
 {"data": {"name": "R2"}, "mark": {"type": "line", "color": "#8b1a2a", "strokeWidth": 1.2, "clip": true},
  "encoding": {"x": {"field": "t", "type": "quantitative", "scale": {"domain": [2, 15.55], "nice": false, "zero": false}, "axis": {"labels": false, "ticks": false, "title": null, "domainColor": "#8a8a8a"}},
   "y": {"field": "y", "type": "quantitative", "scale": {"domain": [0, 100], "nice": false}, "axis": {"values": [0,20,40,60,80,100], "tickSize": 10, "title": "Relative Abundance"}}}},
 {"data": {"name": "info"}, "transform": [{"filter": "datum.p === 'R2'"}], "mark": {"type": "text", "align": "left", "baseline": "top", "fontSize": 14, "lineHeight": 17, "lineBreak": "\n", "color": "#8e3040"},
  "encoding": {"x": {"field": "t", "type": "quantitative", "scale": {"domain": [2, 15.55], "nice": false, "zero": false}, "axis": null}, "y": {"field": "y", "type": "quantitative", "scale": {"domain": [0, 100], "nice": false}, "axis": {"orient": "left", "values": [5,10,15,25,30], "labels": false, "domain": false, "tickSize": 6, "title": null}}, "text": {"field": "text"}}},
 {"data": {"name": "peak"}, "transform": [{"filter": "datum.p === 'R2'"}], "mark": {"type": "text", "align": "center", "baseline": "bottom", "dy": -1, "fontSize": 17, "color": "#111111"},
  "encoding": {"x": {"field": "t", "type": "quantitative", "scale": {"domain": [2, 15.55], "nice": false, "zero": false}, "axis": null}, "y": {"field": "y", "type": "quantitative", "scale": {"domain": [0, 100], "nice": false}, "axis": {"orient": "left", "values": [35,45,50,55,65], "labels": false, "domain": false, "tickSize": 6, "title": null}}, "text": {"field": "text"}}},
 {"data": {"name": "lab"}, "transform": [{"filter": "datum.p === 'R2'"}], "mark": {"type": "text", "align": "center", "baseline": "middle", "fontSize": 19, "color": "#111111"},
  "encoding": {"x": {"field": "t", "type": "quantitative", "scale": {"domain": [2, 15.55], "nice": false, "zero": false}, "axis": null}, "y": {"field": "y", "type": "quantitative", "scale": {"domain": [0, 100], "nice": false}, "axis": {"orient": "left", "values": [70,75,85,90,95], "labels": false, "domain": false, "tickSize": 6, "title": null}}, "text": {"field": "text"}}}
]},
{"width": 474, "height": 190, "resolve": {"axis": {"y": "independent"}}, "layer": [
 {"data": {"name": "R3"}, "mark": {"type": "line", "color": "#2a8a2a", "strokeWidth": 1.1, "clip": true},
  "encoding": {"x": {"field": "t", "type": "quantitative", "scale": {"domain": [2, 15.55], "nice": false, "zero": false}, "axis": {"labels": false, "ticks": false, "title": null, "domainColor": "#8a8a8a"}},
   "y": {"field": "y", "type": "quantitative", "scale": {"domain": [0, 100], "nice": false}, "axis": {"values": [0,20,40,60,80,100], "tickSize": 10, "title": null}}}},
 {"data": {"name": "info"}, "transform": [{"filter": "datum.p === 'R3'"}], "mark": {"type": "text", "align": "left", "baseline": "top", "fontSize": 14, "lineHeight": 17, "lineBreak": "\n", "color": "#3f8f3f"},
  "encoding": {"x": {"field": "t", "type": "quantitative", "scale": {"domain": [2, 15.55], "nice": false, "zero": false}, "axis": null}, "y": {"field": "y", "type": "quantitative", "scale": {"domain": [0, 100], "nice": false}, "axis": {"orient": "left", "values": [5,10,15,25,30], "labels": false, "domain": false, "tickSize": 6, "title": null}}, "text": {"field": "text"}}},
 {"data": {"name": "peak"}, "transform": [{"filter": "datum.p === 'R3'"}], "mark": {"type": "text", "align": "center", "baseline": "bottom", "dy": -1, "fontSize": 17, "color": "#111111"},
  "encoding": {"x": {"field": "t", "type": "quantitative", "scale": {"domain": [2, 15.55], "nice": false, "zero": false}, "axis": null}, "y": {"field": "y", "type": "quantitative", "scale": {"domain": [0, 100], "nice": false}, "axis": {"orient": "left", "values": [35,45,50,55,65], "labels": false, "domain": false, "tickSize": 6, "title": null}}, "text": {"field": "text"}}},
 {"data": {"name": "lab"}, "transform": [{"filter": "datum.p === 'R3'"}], "mark": {"type": "text", "align": "center", "baseline": "middle", "fontSize": 19, "color": "#111111"},
  "encoding": {"x": {"field": "t", "type": "quantitative", "scale": {"domain": [2, 15.55], "nice": false, "zero": false}, "axis": null}, "y": {"field": "y", "type": "quantitative", "scale": {"domain": [0, 100], "nice": false}, "axis": {"orient": "left", "values": [70,75,85,90,95], "labels": false, "domain": false, "tickSize": 6, "title": null}}, "text": {"field": "text"}}}
]},
{"width": 474, "height": 190, "resolve": {"axis": {"x": "independent", "y": "independent"}}, "layer": [
 {"data": {"name": "R4"}, "mark": {"type": "line", "color": "#1a1a80", "strokeWidth": 1.1, "clip": true},
  "encoding": {"x": {"field": "t", "type": "quantitative", "scale": {"domain": [2, 15.55], "nice": false, "zero": false}, "axis": {"values": [2,4,6,8,10,12,14], "tickSize": 9, "title": "Time (min)"}},
   "y": {"field": "y", "type": "quantitative", "scale": {"domain": [0, 100], "nice": false}, "axis": {"values": [0,20,40,60,80,100], "tickSize": 10, "title": null}}}},
 {"data": {"name": "info"}, "transform": [{"filter": "datum.p === 'R4'"}], "mark": {"type": "text", "align": "left", "baseline": "top", "fontSize": 14, "lineHeight": 17, "lineBreak": "\n", "color": "#4a4a8a"},
  "encoding": {"x": {"field": "t", "type": "quantitative", "scale": {"domain": [2, 15.55], "nice": false, "zero": false}, "axis": {"orient": "bottom", "values": [2.5,3,3.5,4.5,5,5.5,6.5], "labels": false, "domain": false, "tickSize": 6, "title": null}}, "y": {"field": "y", "type": "quantitative", "scale": {"domain": [0, 100], "nice": false}, "axis": {"orient": "left", "values": [5,10,15,25,30], "labels": false, "domain": false, "tickSize": 6, "title": null}}, "text": {"field": "text"}}},
 {"data": {"name": "peak"}, "transform": [{"filter": "datum.p === 'R4'"}], "mark": {"type": "text", "align": "center", "baseline": "bottom", "dy": -1, "fontSize": 17, "color": "#111111"},
  "encoding": {"x": {"field": "t", "type": "quantitative", "scale": {"domain": [2, 15.55], "nice": false, "zero": false}, "axis": {"orient": "bottom", "values": [7,7.5,8.5,9,9.5,10.5,11], "labels": false, "domain": false, "tickSize": 6, "title": null}}, "y": {"field": "y", "type": "quantitative", "scale": {"domain": [0, 100], "nice": false}, "axis": {"orient": "left", "values": [35,45,50,55,65], "labels": false, "domain": false, "tickSize": 6, "title": null}}, "text": {"field": "text"}}},
 {"data": {"name": "lab"}, "transform": [{"filter": "datum.p === 'R4'"}], "mark": {"type": "text", "align": "center", "baseline": "middle", "fontSize": 19, "color": "#111111"},
  "encoding": {"x": {"field": "t", "type": "quantitative", "scale": {"domain": [2, 15.55], "nice": false, "zero": false}, "axis": {"orient": "bottom", "values": [11.5,12.5,13,13.5,14.5,15,15.5], "labels": false, "domain": false, "tickSize": 6, "title": null}}, "y": {"field": "y", "type": "quantitative", "scale": {"domain": [0, 100], "nice": false}, "axis": {"orient": "left", "values": [70,75,85,90,95], "labels": false, "domain": false, "tickSize": 6, "title": null}}, "text": {"field": "text"}}}
]}
]}
],
"config": {
 "font": "Liberation Sans",
 "view": {"stroke": null},
 "text": {"font": "Liberation Sans"},
 "axis": {"grid": false, "labelFont": "Liberation Sans", "labelFontSize": 17, "labelColor": "#111111", "labelPadding": 3, "domainColor": "#222222", "tickColor": "#222222", "domainWidth": 1, "tickWidth": 1, "titleFont": "Liberation Sans", "titleFontSize": 16, "titleFontWeight": "normal", "titleColor": "#222222", "titlePadding": 8, "labelFlush": false},
 "axisX": {"titleFontSize": 17, "titlePadding": 4}
}
}
